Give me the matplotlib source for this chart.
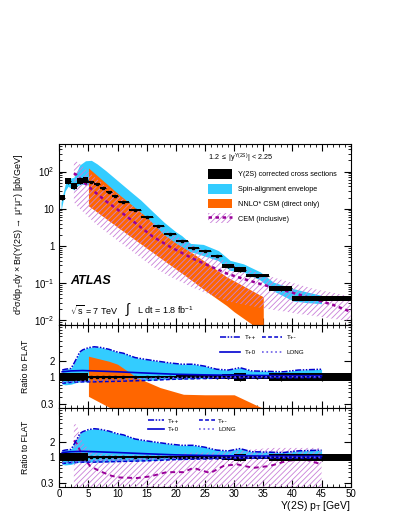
import numpy as np
import matplotlib
matplotlib.use('Agg')
import matplotlib.pyplot as plt
from matplotlib.patches import Patch
from matplotlib.lines import Line2D
from matplotlib.ticker import FixedLocator, FixedFormatter, MultipleLocator, LogLocator, NullFormatter

plt.rcParams['font.family'] = ['Liberation Sans', 'DejaVu Sans']
plt.rcParams['mathtext.fontset'] = 'custom'
plt.rcParams['mathtext.rm'] = 'Liberation Sans'
plt.rcParams['mathtext.it'] = 'Liberation Sans:italic'
plt.rcParams['mathtext.bf'] = 'Liberation Sans:bold'
plt.rcParams['mathtext.default'] = 'regular'
plt.rcParams['hatch.linewidth'] = 0.6

# --- data: Upsilon(2S) cross sections
bin_edges = [0, 1, 2, 3, 4, 5, 6, 7, 8, 9, 10, 12, 14, 16, 18, 20, 22, 24, 26, 28, 30, 32, 36, 40, 50]
xsec = [20, 55, 41, 57, 58, 53, 47, 36, 29, 22, 15.5, 9.3, 6.0, 3.4, 2.1, 1.39, 0.87, 0.72, 0.54,
        0.29, 0.23, 0.16, 0.073, 0.038]
rel_err = [0.2, 0.2, 0.2, 0.2, 0.2, 0.05, 0.05, 0.05, 0.05, 0.05, 0.05, 0.05, 0.05, 0.05, 0.05,
           0.06, 0.06, 0.06, 0.08, 0.12, 0.18, 0.08, 0.18, 0.18]

# spin-alignment envelope (top panel)
env_pt = [0.3, 1, 1.5, 2.5, 3, 3.5, 4.5, 5.5, 6.5, 8, 10, 12, 14, 16, 18, 20, 21, 22.5, 24.7, 27.3,
          29.3, 31.6, 34.5, 36.7, 40.2, 42.5, 45]
env_hi = [15, 45, 64, 70, 100, 150, 195, 200, 160, 105, 57, 31, 17, 8.5, 4.3, 2.4, 1.9, 1.17, 1.1,
          0.75, 0.41, 0.33, 0.2, 0.107, 0.071, 0.058, 0.047]
env_lo = [9, 30, 40, 32, 40, 45, 45, 42, 36, 24, 12.5, 7.5, 4.8, 2.8, 1.7, 1.1, 0.9, 0.7, 0.55, 0.4,
          0.22, 0.2, 0.12, 0.062, 0.033, 0.03, 0.028]

# NNLO* CSM (top panel)
csm_pt = [5, 10, 15, 18, 20, 23, 25, 28.7, 30, 35]
csm_hi = [125, 26, 5.9, 2.0, 1.2, 0.62, 0.38, 0.148, 0.115, 0.043]
csm_lo = [12, 3.2, 0.87, 0.4, 0.24, 0.11, 0.064, 0.025, 0.017, 0.0048]

# CEM (top panel)
cem_pt = [2.5, 3, 4, 5, 6, 8, 10, 13, 16, 19, 23, 26, 29, 32, 35, 38, 41, 44, 47, 50]
cem_mid = [90, 80, 55, 40, 29, 16, 9.5, 4.2, 1.8, 0.95, 0.45, 0.28, 0.175, 0.125, 0.09, 0.068,
           0.05, 0.036, 0.026, 0.017]
cem_hi = [200, 185, 140, 100, 72, 40, 24, 10.5, 4.5, 2.3, 1.05, 0.6, 0.36, 0.24, 0.17, 0.125,
          0.092, 0.068, 0.055, 0.044]
cem_lo = [15, 12, 8.5, 6, 4.3, 2.4, 1.4, 0.63, 0.28, 0.15, 0.075, 0.048, 0.032, 0.026, 0.021,
          0.018, 0.015, 0.013, 0.011, 0.0095]

# ratio to FLAT (both lower panels)
r_pt = [0.5, 1, 2, 2.5, 3, 3.5, 4, 5, 6, 7, 8.5, 10, 11, 13, 15, 16.5, 19, 21, 23, 25, 27, 29, 31,
        33, 35, 38.5, 41, 45]
r_hi = [1.35, 1.4, 1.45, 1.8, 2.3, 3.0, 3.3, 3.65, 3.8, 3.7, 3.4, 3.0, 2.85, 2.35, 2.15, 2.03, 1.85,
        1.75, 1.75, 1.6, 1.4, 1.35, 1.5, 1.3, 1.28, 1.25, 1.35, 1.4]
r_lo = [0.72, 0.7, 0.72, 0.75, 0.78, 0.8, 0.8, 0.8, 0.8, 0.8, 0.81, 0.82, 0.83, 0.84, 0.85, 0.87,
        0.9, 0.91, 0.92, 0.93, 0.94, 0.95, 0.95, 0.95, 0.96, 0.96, 0.96, 0.96]
t_pt = [0.5, 2, 4, 6, 10, 15, 20, 25, 30, 35, 40, 45]
t_p0 = [1.25, 1.3, 1.32, 1.3, 1.25, 1.18, 1.12, 1.09, 1.07, 1.06, 1.05, 1.05]
t_pm = [0.75, 0.78, 0.8, 0.8, 0.82, 0.85, 0.9, 0.93, 0.95, 0.96, 0.96, 0.97]
t_long = [0.78, 0.8, 0.82, 0.85, 0.88, 0.92, 0.96, 0.98, 0.99, 1.0, 1.0, 1.0]

csm_r_pt = [5, 8.5, 10, 13.3, 17.3, 21.3, 25, 30, 34.5, 35]
csm_r_hi = [2.5, 2.0, 1.75, 0.97, 0.62, 0.46, 0.45, 0.45, 0.26, 0.25]
csm_r_lo = [0.42, 0.26, 0.2, 0.15, 0.12, 0.1, 0.1, 0.1, 0.1, 0.1]

cem_r_pt = [2.5, 3, 4, 5.3, 7, 9, 10.4, 13.3, 15.6, 18.4, 21.3, 23, 25.9, 28.2, 30.5, 33.3, 36.2,
            39.1, 42, 45]
cem_r_mid = [2.2, 1.9, 1.05, 0.66, 0.52, 0.42, 0.39, 0.38, 0.41, 0.5, 0.5, 0.61, 0.48, 0.67, 0.72,
             0.61, 0.67, 0.85, 0.92, 0.72]
cem_r_hi = [4.9, 4.5, 2.0, 1.35, 1.2, 1.15, 1.12, 1.12, 1.12, 1.15, 1.2, 1.25, 1.25, 1.3, 1.35,
            1.45, 1.55, 1.55, 1.55, 1.55]
cem_r_lo = [0.1] * len(cem_r_pt)

BLUE = '#33ccff'
ORANGE = '#ff6600'
HATCH = '#c97fd9'
CEMLINE = '#990099'
TCOL = '#0000d0'


def style_axis(ax):
    ax.set_xlim(0, 50)
    ax.xaxis.set_major_locator(MultipleLocator(5))
    ax.xaxis.set_minor_locator(MultipleLocator(1))
    ax.tick_params(which='both', direction='in', top=True, right=True, labelsize=7)
    ax.tick_params(which='major', length=5, width=0.8)
    ax.tick_params(which='minor', length=2.5, width=0.6)
    ax.tick_params(axis='x', pad=1.5)
    for s in ax.spines.values():
        s.set_linewidth(0.8)


def draw_data(ax, ratio=False):
    edges = np.array(bin_edges, dtype=float)
    vals = np.ones(len(xsec)) if ratio else np.array(xsec)
    err = np.array(rel_err)
    lo = vals / (1 + err)
    hi = vals * (1 + err)
    ax.bar(edges[:-1], hi - lo, width=np.diff(edges), bottom=lo, align='edge',
           color='black', linewidth=0, zorder=5)
    centers = 0.5 * (edges[:-1] + edges[1:])
    ax.errorbar(centers, vals, xerr=0.5 * np.diff(edges), yerr=[vals - lo, hi - vals],
                fmt='s', ms=1.8, color='black', lw=0.8, capsize=0, zorder=6)


def draw_ratio(ax, orange):
    ax.fill_between(r_pt, r_lo, r_hi, color=BLUE, lw=0, zorder=1)
    if orange:
        ax.fill_between(csm_r_pt, csm_r_lo, csm_r_hi, color=ORANGE, lw=0, zorder=2)
    else:
        ax.fill_between(cem_r_pt, cem_r_lo, cem_r_hi, facecolor='none', edgecolor=HATCH,
                        hatch='//////', lw=0, zorder=2)
        ax.plot(cem_r_pt, cem_r_mid, color=CEMLINE, lw=1.4, dashes=(2.5, 2), zorder=3)
    draw_data(ax, ratio=True)
    l_pp, = ax.plot(r_pt, r_hi, color=TCOL, lw=1.1, dashes=(4, 1, 1, 1, 1, 1), zorder=7)
    l_pm, = ax.plot(t_pt, t_pm, color=TCOL, lw=1.1, dashes=(2.5, 1.5), zorder=7)
    l_p0, = ax.plot(t_pt, t_p0, color=TCOL, lw=1.2, zorder=7)
    l_lg, = ax.plot(t_pt, t_long, color='#6b5ee8', lw=1.2, ls=':', zorder=7)
    ax.set_yscale('log')
    ax.set_ylim(0.25, 10)
    ax.yaxis.set_major_locator(FixedLocator([0.3, 1, 2]))
    ax.yaxis.set_major_formatter(FixedFormatter(['0.3', '1', '2']))
    ax.yaxis.set_minor_locator(LogLocator(subs=np.arange(1, 10), numticks=20))
    ax.yaxis.set_minor_formatter(NullFormatter())
    ax.set_ylabel('Ratio to FLAT', fontsize=6.3)
    ax.yaxis.set_label_coords(-0.1, 0.5)
    style_axis(ax)
    # column-wise legend fill: rows read T++ T+- / T+0 LONG
    return [l_pp, l_p0, l_pm, l_lg], ['T++', 'T+0', 'T+-', 'LONG']


fig = plt.figure(figsize=(3.99, 5.16), dpi=100)
x0, w = 59.3 / 399, 291.4 / 399
ax1 = fig.add_axes([x0, 1 - 325 / 516, w, 181 / 516])
ax2 = fig.add_axes([x0, 1 - 408 / 516, w, 83 / 516])
ax3 = fig.add_axes([x0, 1 - 487 / 516, w, 79 / 516])

# top panel
ax1.fill_between(env_pt, env_lo, env_hi, color=BLUE, lw=0, zorder=1)
ax1.fill_between(csm_pt, csm_lo, csm_hi, color=ORANGE, lw=0, zorder=2)
ax1.fill_between(cem_pt, cem_lo, cem_hi, facecolor='none', edgecolor=HATCH, hatch='//////', lw=0,
                 zorder=3)
ax1.plot(cem_pt, cem_mid, color=CEMLINE, lw=1.8, dashes=(1.4, 1.4), zorder=4)
draw_data(ax1)
ax1.set_yscale('log')
ax1.set_ylim(0.0075, 550)
ax1.yaxis.set_major_locator(FixedLocator([0.01, 0.1, 1, 10, 100]))
ax1.yaxis.set_major_formatter(FixedFormatter([r'$10^{-2}$', r'$10^{-1}$', '1', '10', r'$10^{2}$']))
ax1.yaxis.set_minor_locator(LogLocator(subs=np.arange(2, 10), numticks=20))
ax1.yaxis.set_minor_formatter(NullFormatter())
style_axis(ax1)
ax1.tick_params(labelbottom=False)
ax1.set_ylabel(r'd$^{2}\sigma$/dp$_{T}$dy $\times$ Br($\Upsilon$(2S)$\rightarrow$ $\mu^{+}\mu^{-}$) [pb/GeV]',
               fontsize=6.5)
ax1.yaxis.set_label_coords(-0.115, 0.5)

ax1.text(0.51, 0.923, r'1.2 $\leq$ |y$^{\Upsilon(2S)}$| < 2.25', transform=ax1.transAxes,
         fontsize=5.2, va='center')
handles = [Patch(facecolor='black'), Patch(facecolor=BLUE), Patch(facecolor=ORANGE),
           (Patch(facecolor='none', edgecolor=HATCH, hatch='//////', lw=0),
            Line2D([], [], color=CEMLINE, lw=1.8, dashes=(1.4, 1.4)))]
labels = ['Υ(2S) corrected cross sections', 'Spin-alignment envelope',
          'NNLO* CSM (direct only)', 'CEM (inclusive)']
ax1.legend(handles, labels, loc='upper left', bbox_to_anchor=(0.51, 0.862), frameon=False,
           fontsize=5.2, handlelength=3.3, handleheight=1.7, labelspacing=0.7,
           handletextpad=0.9, borderpad=0, borderaxespad=0)
ax1.text(0.039, 0.245, 'ATLAS', transform=ax1.transAxes, fontsize=9, fontweight='bold',
         fontstyle='italic', va='center')
ax1.text(0.037, 0.083, r'$\sqrt{s}$ = 7 TeV', transform=ax1.transAxes, fontsize=6.5, va='center')
ax1.text(0.225, 0.083, r'$\int$', transform=ax1.transAxes, fontsize=10, va='center')
ax1.text(0.265, 0.083, r'L dt = 1.8 fb$^{-1}$', transform=ax1.transAxes, fontsize=6.5, va='center')

# ratio panels
h2, lab2 = draw_ratio(ax2, orange=True)
ax2.tick_params(labelbottom=False)
ax2.legend(h2, lab2, loc='upper left', bbox_to_anchor=(0.55, 0.88), ncol=2, frameon=False,
           fontsize=4.5, handlelength=3.2, columnspacing=0.9, labelspacing=1.5, handletextpad=0.8,
           borderpad=0, borderaxespad=0)

h3, lab3 = draw_ratio(ax3, orange=False)
ax3.legend(h3, lab3, loc='upper left', bbox_to_anchor=(0.305, 0.87), ncol=2, frameon=False,
           fontsize=4.5, handlelength=2.6, columnspacing=3.2, labelspacing=0.5, handletextpad=0.5,
           borderpad=0, borderaxespad=0)
ax3.set_xlabel(r'$\Upsilon$(2S) p$_{T}$ [GeV]', fontsize=7.5, loc='right')
ax3.xaxis.set_label_coords(1.0, -0.15)

fig.savefig('out.png', dpi=100)
